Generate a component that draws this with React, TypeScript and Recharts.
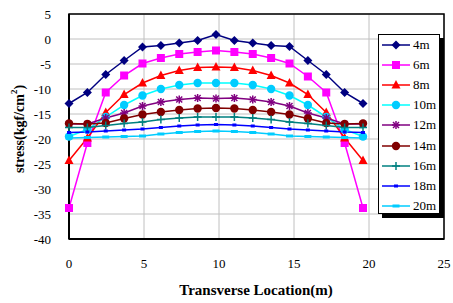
import React from "react";
import {
  LineChart,
  Line,
  XAxis,
  YAxis,
  CartesianGrid,
  ReferenceArea,
} from "recharts";

// transverse positions (m)
const LOCATIONS = [
  0, 1.225, 2.45, 3.675, 4.9, 6.125, 7.35, 8.575, 9.8, 11.025, 12.25, 13.475,
  14.7, 15.925, 17.15, 18.375, 19.6,
];

const S4 = [-12.9, -10.7, -7.1, -4.3, -1.6, -1.3, -0.8, -0.3, 0.9, -0.3, -0.8, -1.3, -1.5, -4.3, -7.1, -10.7, -12.9];
const S6 = [-33.8, -20.8, -10.7, -7.3, -4.9, -3.8, -3.0, -2.6, -2.3, -2.6, -3.0, -3.8, -4.9, -7.5, -10.7, -20.8, -33.8];
const S8 = [-24.3, -19.8, -14.7, -11.1, -8.8, -7.3, -6.3, -5.7, -5.6, -5.7, -6.3, -7.3, -8.8, -11.1, -14.7, -19.8, -24.3];
const S10 = [-19.5, -18.1, -15.6, -13.2, -11.3, -10.0, -9.2, -8.8, -8.8, -8.8, -9.2, -10.0, -11.3, -13.2, -15.6, -18.1, -19.5];
const S12 = [-17.0, -17.0, -15.8, -14.8, -13.4, -12.6, -12.1, -11.8, -11.9, -11.8, -12.1, -12.6, -13.4, -14.8, -15.8, -17.0, -17.0];
const S14 = [-16.9, -17.0, -16.8, -15.9, -15.1, -14.6, -14.2, -13.9, -13.8, -13.9, -14.2, -14.6, -15.1, -15.9, -16.8, -17.0, -16.9];
const S16 = [-17.7, -17.7, -17.3, -16.9, -16.6, -16.1, -15.8, -15.6, -15.6, -15.6, -15.8, -16.1, -16.6, -16.9, -17.3, -17.7, -17.7];
const S18 = [-18.7, -18.6, -18.4, -18.2, -18.0, -17.7, -17.4, -17.2, -17.1, -17.2, -17.4, -17.7, -18.0, -18.2, -18.4, -18.6, -18.7];
const S20 = [-19.8, -19.7, -19.6, -19.5, -19.4, -19.0, -18.7, -18.5, -18.4, -18.5, -18.7, -19.0, -19.4, -19.5, -19.6, -19.7, -19.8];

const X_TICKS = [0, 5, 10, 15, 20, 25];
const Y_TICKS = [5, 0, -5, -10, -15, -20, -25, -30, -35, -40];

type Shape = "diamond" | "square" | "triangle" | "circle" | "star" | "plus" | "dash" | "wideDash";

const SERIES: { key: string; name: string; values: number[]; color: string; marker: string; shape: Shape }[] = [
  { key: "s4", name: "4m", values: S4, color: "#000080", marker: "#000080", shape: "diamond" },
  { key: "s6", name: "6m", values: S6, color: "#ff00ff", marker: "#ff00ff", shape: "square" },
  { key: "s8", name: "8m", values: S8, color: "#ff0000", marker: "#ff0000", shape: "triangle" },
  { key: "s10", name: "10m", values: S10, color: "#00ffff", marker: "#00ccff", shape: "circle" },
  { key: "s12", name: "12m", values: S12, color: "#800080", marker: "#800080", shape: "star" },
  { key: "s14", name: "14m", values: S14, color: "#800000", marker: "#800000", shape: "circle" },
  { key: "s16", name: "16m", values: S16, color: "#008080", marker: "#008080", shape: "plus" },
  { key: "s18", name: "18m", values: S18, color: "#0000ff", marker: "#0000ff", shape: "dash" },
  { key: "s20", name: "20m", values: S20, color: "#00ccff", marker: "#00ccff", shape: "wideDash" },
];

const data = LOCATIONS.map((x, i) => {
  const row: Record<string, number> = { x };
  SERIES.forEach((s) => (row[s.key] = s.values[i]));
  return row;
});

const FONT = "'Liberation Serif', 'Times New Roman', serif";

function Marker({ shape, color, cx, cy }: { shape: Shape; color: string; cx: number; cy: number }) {
  switch (shape) {
    case "diamond":
      return <path d={`M${cx},${cy - 4.5}L${cx + 4.5},${cy}L${cx},${cy + 4.5}L${cx - 4.5},${cy}Z`} fill={color} />;
    case "square":
      return <rect x={cx - 4} y={cy - 4} width={8} height={8} fill={color} />;
    case "triangle":
      return <path d={`M${cx},${cy - 5}L${cx + 4.5},${cy + 3.5}L${cx - 4.5},${cy + 3.5}Z`} fill={color} />;
    case "circle":
      return <circle cx={cx} cy={cy} r={4.2} fill={color} />;
    case "star":
      return (
        <g stroke={color} strokeWidth={1.5}>
          <line x1={cx - 4} y1={cy} x2={cx + 4} y2={cy} />
          <line x1={cx} y1={cy - 4} x2={cx} y2={cy + 4} />
          <line x1={cx - 3} y1={cy - 3} x2={cx + 3} y2={cy + 3} />
          <line x1={cx - 3} y1={cy + 3} x2={cx + 3} y2={cy - 3} />
        </g>
      );
    case "plus":
      return (
        <g stroke={color} strokeWidth={1.5}>
          <line x1={cx - 4} y1={cy} x2={cx + 4} y2={cy} />
          <line x1={cx} y1={cy - 4} x2={cx} y2={cy + 4} />
        </g>
      );
    case "dash":
      return <rect x={cx - 2} y={cy - 1.5} width={4} height={3} fill={color} />;
    case "wideDash":
      return <rect x={cx - 3.5} y={cy - 1.5} width={7} height={3} fill={color} />;
  }
  return null;
}

function makeDot(name: string, shape: Shape, color: string) {
  return (props: any) => (
    <g key={`${name}-${props.index}`}>
      <Marker shape={shape} color={color} cx={props.cx} cy={props.cy} />
    </g>
  );
}

function LegendBox() {
  return (
    <div style={{ position: "absolute", left: 378, top: 34, width: 66, height: 184 }}>
      <div style={{ position: "absolute", left: 4, top: 4, width: 62, height: 180, background: "#000" }} />
      <div
        style={{
          position: "absolute",
          left: 0,
          top: 0,
          width: 60,
          height: 178,
          background: "#fff",
          border: "1px solid #000",
        }}
      >
        {SERIES.map((s, i) => (
          <div
            key={s.key}
            style={{
              position: "absolute",
              left: 3,
              top: 2 + i * 20.1,
              height: 16,
              display: "flex",
              alignItems: "center",
              fontFamily: FONT,
              fontSize: 13,
              color: "#000",
              whiteSpace: "nowrap",
            }}
          >
            <svg width={28} height={16}>
              <line x1={0} y1={8} x2={28} y2={8} stroke={s.color} strokeWidth={1.5} />
              <Marker shape={s.shape} color={s.marker} cx={14} cy={8} />
            </svg>
            <span style={{ marginLeft: 3 }}>{s.name}</span>
          </div>
        ))}
      </div>
    </div>
  );
}

export default function App() {
  return (
    <div style={{ position: "absolute", left: 0, top: 0, width: 453, height: 303, background: "#fff" }}>
      <LineChart width={453} height={303} data={data} margin={{ top: 14, right: 9, bottom: 34, left: 0 }}>
        <CartesianGrid stroke="#c0c0c0" strokeWidth={1} />
        <XAxis
          dataKey="x"
          type="number"
          domain={[0, 25]}
          ticks={X_TICKS}
          height={30}
          tickLine={false}
          axisLine={{ stroke: "#000", strokeWidth: 2 }}
          tickMargin={14}
          tick={{ fontFamily: FONT, fontSize: 13, fill: "#000" }}
        />
        <YAxis
          type="number"
          domain={[-40, 5]}
          ticks={Y_TICKS}
          width={69}
          tickLine={false}
          axisLine={{ stroke: "#000", strokeWidth: 2 }}
          tickMargin={12}
          tick={{ fontFamily: FONT, fontSize: 13, fill: "#000" }}
        />
        <ReferenceArea x1={0} x2={25} y1={-40} y2={5} fill="none" stroke="#000" strokeWidth={1.5} ifOverflow="visible" />
        {SERIES.map((s) => (
          <Line
            key={s.key}
            dataKey={s.key}
            name={s.name}
            stroke={s.color}
            strokeWidth={1.5}
            type="linear"
            dot={makeDot(s.name, s.shape, s.marker)}
            activeDot={false}
            isAnimationActive={false}
          />
        ))}
        <text
          x={19}
          y={129}
          transform="rotate(-90 19 129)"
          textAnchor="middle"
          dominantBaseline="central"
          style={{ fontFamily: FONT, fontSize: 14, fontWeight: "bold", fill: "#000" }}
        >
          stress(kgf/cm
          <tspan dy={-5} fontSize={9}>2</tspan>
          <tspan dy={5}>)</tspan>
        </text>
        <text
          x={256}
          y={295}
          textAnchor="middle"
          style={{ fontFamily: FONT, fontSize: 15, fontWeight: "bold", fill: "#000" }}
        >
          Transverse Location(m)
        </text>
      </LineChart>
      <LegendBox />
    </div>
  );
}
